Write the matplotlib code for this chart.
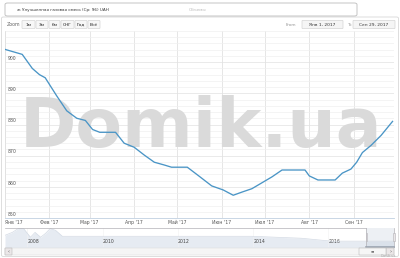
import numpy as np
import pandas as pd
import matplotlib
matplotlib.use("Agg")
import matplotlib.pyplot as plt
import matplotlib.dates as mdates
from matplotlib.patches import FancyBboxPatch, Rectangle
from matplotlib.lines import Line2D

# main series (price, UAH)
dates = ["2017-01-01", "2017-01-13", "2017-01-20", "2017-01-25", "2017-01-29",
         "2017-02-06", "2017-02-13", "2017-02-20", "2017-02-26", "2017-03-03",
         "2017-03-08", "2017-03-19", "2017-03-25", "2017-04-01", "2017-04-08",
         "2017-04-15", "2017-04-22", "2017-04-27", "2017-05-08", "2017-05-16",
         "2017-05-25", "2017-06-02", "2017-06-09", "2017-06-15", "2017-06-22",
         "2017-06-29", "2017-07-06", "2017-07-13", "2017-07-29", "2017-08-01",
         "2017-08-07", "2017-08-19", "2017-08-24", "2017-08-30", "2017-09-03",
         "2017-09-07", "2017-09-13", "2017-09-20", "2017-09-28"]
values = [904.1, 902.5, 898.0, 896.0, 895.0,
          889.2, 884.4, 882.0, 881.3, 878.4,
          877.5, 877.5, 874.0, 872.7, 870.2,
          867.9, 867.0, 866.3, 866.3, 863.5,
          860.3, 859.0, 857.3, 858.3, 859.4,
          861.3, 863.2, 865.4, 865.4, 863.5,
          862.2, 862.2, 864.4, 865.7, 867.9,
          871.0, 873.3, 876.5, 881.0]

# navigator (full history)
nav_dates = ["2007-05-28", "2007-08-07", "2007-10-05", "2007-11-24", "2008-01-30",
             "2008-03-15", "2008-05-08", "2008-06-25", "2008-08-10", "2008-10-01",
             "2008-12-05", "2009-05-30", "2011-04-10", "2013-12-15", "2015-04-12",
             "2016-01-30", "2017-09-29"]
nav_values = [1180, 1300, 1460, 1460, 1100, 1300, 1100, 1260, 1460, 1380,
              1140, 1140, 1140, 1140, 1060, 940, 940]

month_labels = ["Янв '17", "Фев '17", "Мар '17", "Апр '17", "Май '17",
                "Июн '17", "Июл '17", "Авг '17", "Сен '17"]
y_ticks = [850, 860, 870, 880, 890, 900]
nav_years = [2008, 2010, 2012, 2014, 2016]
range_buttons = ["1м", "3м", "6м", "СНГ", "Год", "Всё"]

W, H = 400, 258
fig = plt.figure(figsize=(W / 100, H / 100), dpi=100)
fig.patch.set_facecolor("white")


def fx(x):
    return x / W


def fy(y):
    return 1 - y / H


def box(x0, y0, x1, y1, fc="white", ec="#cccccc", lw=0.5, r=1.5, z=1):
    p = FancyBboxPatch((fx(x0), fy(y1)), fx(x1 - x0), (y1 - y0) / H,
                       boxstyle="round,pad=0,rounding_size=%f" % (r / W),
                       transform=fig.transFigure, fc=fc, ec=ec, lw=lw, zorder=z)
    fig.patches.append(p)


def ftext(x, y, s, size=3.4, color="#666666", ha="left", **kw):
    fig.text(fx(x), fy(y), s, fontsize=size, color=color, ha=ha, va="center", **kw)


line_color = "#4a95c6"

# outer frame
box(1.5, 17, 398.5, 256.5, fc="none", ec="#d8d8d8", lw=0.6, r=2)

# legend box
box(5, 3, 357, 16, ec="#bbbbbb", lw=0.6, r=2.5, z=2)
fig.lines.append(Line2D([fx(7), fx(14)], [fy(9.5), fy(9.5)], color=line_color, lw=0.9,
                        transform=fig.transFigure))
ftext(17, 9.6, "ж Улучшенная газовая смесь (Ср: 96) UAH", size=3.0, color="#333333")
fig.patches.append(Rectangle((fx(180), fy(12)), fx(6), 5 / H, transform=fig.transFigure,
                             fc="#777777", ec="none"))
ftext(189, 9.6, "Объемы", size=3.0, color="#bbbbbb")

# range selector
ftext(7, 24.5, "Zoom", size=3.4)
bx = [(22, 35), (36, 48), (49, 60), (61, 74), (75, 87), (88, 100)]
for (a, b), lab in zip(bx, range_buttons):
    box(a, 20.5, b, 28.5, fc="#f7f7f7", ec="#cccccc", lw=0.4, r=0.8)
    ftext((a + b) / 2, 24.6, lab, size=3.2, color="#222222", ha="center")
ftext(286, 24.5, "From", size=3.2, color="#999999")
box(302, 20.5, 343, 28.5, fc="#f5f5f5", ec="#cccccc", lw=0.4, r=0.5)
ftext(322.5, 24.6, "Янв 1, 2017", size=3.2, color="#333333", ha="center")
ftext(347, 24.5, "To", size=3.2, color="#999999")
box(353, 20.5, 395, 28.5, fc="#f5f5f5", ec="#cccccc", lw=0.4, r=0.5)
ftext(374, 24.6, "Сен 29, 2017", size=3.2, color="#333333", ha="center")

# main plot
ax = fig.add_axes([fx(5), fy(218), fx(389), (218 - 31) / H])
x = pd.to_datetime(dates)
ax.plot(x, values, color=line_color, lw=0.95, zorder=4, solid_joinstyle="round")
ax.set_xlim(pd.Timestamp("2017-01-01"), pd.Timestamp("2017-09-29"))
ax.set_ylim(850, 910)
months = pd.date_range("2017-01-01", "2017-09-01", freq="MS")
ax.set_xticks(months)
ax.set_xticklabels(month_labels)
ax.tick_params(axis="x", length=0, pad=1.5, labelsize=3.3, labelcolor="#555555")
ax.get_xticklabels()[0].set_ha("left")
ax.set_yticks(np.arange(850, 911, 2), minor=True)
ax.set_yticks(y_ticks)
ax.set_yticklabels([])
ax.tick_params(axis="y", which="both", length=0)
ax.grid(axis="y", which="minor", color="#f0f0f0", lw=0.5)
ax.grid(axis="y", which="major", color="#e2e2e2", lw=0.5)
ax.grid(axis="x", which="major", color="#dcdcdc", lw=0.5)
ax.set_axisbelow(True)
for s in ["top", "right"]:
    ax.spines[s].set_visible(False)
ax.spines["left"].set_color("#e0e0e0")
ax.spines["left"].set_linewidth(0.5)
ax.spines["bottom"].set_color("#c0d0e0")
ax.spines["bottom"].set_linewidth(0.6)
trans = matplotlib.transforms.blended_transform_factory(ax.transAxes, ax.transData)
for v in y_ticks:
    ax.text(0.006, v + 0.4, str(v), transform=trans, fontsize=3.3, color="#555555",
            va="bottom", ha="left", zorder=5)

# watermark (inside the axes so the line stays on top)
ax.text(fx(20), fy(147), "Domik.ua", transform=fig.transFigure, fontsize=49,
        fontweight="bold", color="#dadada", ha="left", va="baseline", zorder=3)

# navigator
nav = fig.add_axes([fx(5), fy(247), fx(389), 19 / H])
nx = pd.to_datetime(nav_dates)
nav.fill_between(nx, nav_values, 0, color="#e6ebf2", lw=0)
nav.plot(nx, nav_values, color="#d3dae4", lw=0.5)
nav.set_xlim(pd.Timestamp("2007-05-28"), pd.Timestamp("2017-09-29"))
nav.set_ylim(700, 1480)
nav.set_yticks([])
nav.set_xticks([pd.Timestamp("%d-01-01" % yr) for yr in nav_years])
nav.set_xticklabels([str(yr) for yr in nav_years])
nav.tick_params(axis="x", direction="in", pad=-5.5, length=0, labelsize=3.3,
                labelcolor="#444444")
for t in nav.get_xticklabels():
    t.set_ha("left")
nav.grid(axis="x", color="#f2f2f2", lw=0.4)
for s in nav.spines.values():
    s.set_visible(False)
x0, x1 = pd.Timestamp("2017-01-01"), pd.Timestamp("2017-09-29")
ol = "#b2b1b6"
nav.plot([nav.get_xlim()[0], mdates.date2num(x0)], [1480, 1480], color=ol, lw=0.5, clip_on=False)
nav.plot([x0, x0, x1, x1], [1480, 700, 700, 1480], color=ol, lw=0.5, clip_on=False)
nav.axvspan(x0, x1, color="#b8c4d6", alpha=0.25, lw=0)
nav.plot([x0, x1], [704, 704], color="#9aa3b0", lw=1.2, clip_on=False)
for xx in [x0, x1]:
    nav.add_patch(Rectangle((mdates.date2num(xx) - 5.5, 930), 11, 330, fc="#ebe7e8",
                            ec=ol, lw=0.4, zorder=5, clip_on=False))

# scrollbar
box(5, 248, 394, 255, fc="#f5f5f5", ec="#dddddd", lw=0.4, r=0.3)
box(5, 248, 12, 255, fc="#ebe7e8", ec="#bbbbbb", lw=0.4, r=0.3)
box(386, 248, 394, 255, fc="#ebe7e8", ec="#bbbbbb", lw=0.4, r=0.3)
box(359, 248, 386, 255, fc="#f6f6f6", ec="#bbbbbb", lw=0.4, r=0.3)
ftext(372.5, 251.5, "≡", size=3, color="#555555", ha="center")
ftext(8.5, 251.5, "‹", size=3.5, color="#555555", ha="center")
ftext(390, 251.5, "›", size=3.5, color="#555555", ha="center")
ftext(396, 256.3, "Domik.ua", size=2.3, color="#aaaaaa", ha="right")

fig.savefig("out.png", dpi=100)
